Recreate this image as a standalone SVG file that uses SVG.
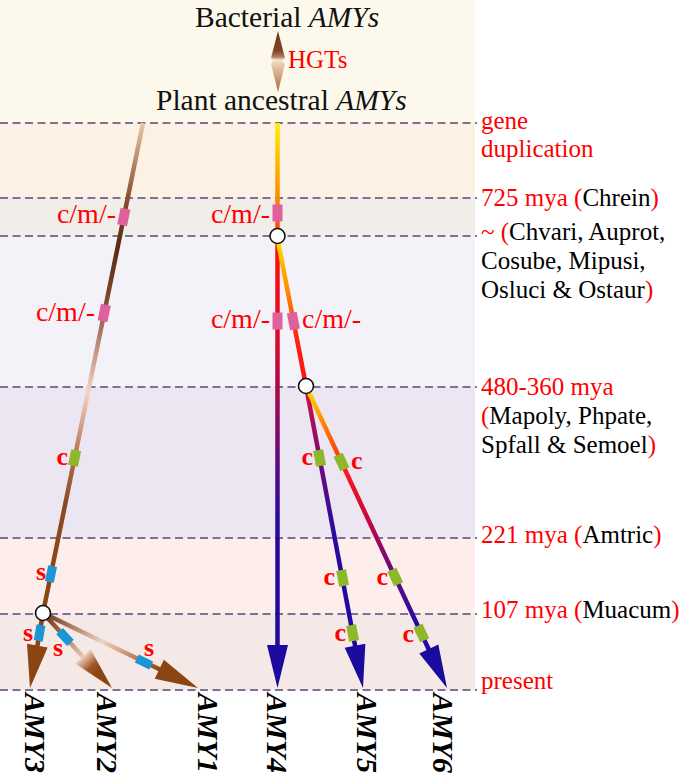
<svg xmlns="http://www.w3.org/2000/svg" width="685" height="782" viewBox="0 0 685 782">
<defs>
<style>
.dash{stroke:#7f7094;stroke-width:2;stroke-dasharray:8 4.5;fill:none}
.t{font-family:"Liberation Serif","Times New Roman",serif;font-size:25px;fill:#000}
.hd{font-family:"Liberation Serif","Times New Roman",serif;font-size:29.5px;fill:#111}
.r{fill:#f00}
.lab{font-family:"Liberation Serif","Times New Roman",serif;font-size:28px;fill:#f00}
.sm{font-family:"Liberation Serif","Times New Roman",serif;font-size:26px;font-weight:bold;fill:#f00}
.amy{font-family:"Liberation Serif","Times New Roman",serif;font-size:30px;font-style:italic;font-weight:bold;fill:#000}
.pk{fill:#e0609e}
.gr{fill:#8cb82a}
.bl{fill:#1a96d6}
.nd{fill:#fff;stroke:#111;stroke-width:1.6}
.br{stroke-width:4.5;fill:none}
.ah{fill:#8b4513}
.ahb{fill:#1a0a9e}
</style>
<linearGradient id="hgt" x1="0" y1="29" x2="0" y2="91" gradientUnits="userSpaceOnUse">
<stop offset="0" stop-color="#6e3418"/>
<stop offset="0.35" stop-color="#7e4424"/>
<stop offset="0.45" stop-color="#b08060"/>
<stop offset="0.5" stop-color="#f8e6d6"/>
<stop offset="0.55" stop-color="#f0d0b4"/>
<stop offset="1" stop-color="#a86e48"/>
</linearGradient>
<linearGradient id="gTrunk" x1="143" y1="123" x2="43" y2="613" gradientUnits="userSpaceOnUse">
<stop offset="0" stop-color="#e6c8aa"/>
<stop offset="0.15" stop-color="#8a5030"/>
<stop offset="0.25" stop-color="#5a2a10"/>
<stop offset="0.36" stop-color="#7a4a30"/>
<stop offset="0.47" stop-color="#c89888"/>
<stop offset="0.55" stop-color="#f2d4c4"/>
<stop offset="0.68" stop-color="#b07050"/>
<stop offset="0.78" stop-color="#8a4a20"/>
<stop offset="1" stop-color="#8b4513"/>
</linearGradient>
<linearGradient id="gA2" x1="43" y1="613" x2="86" y2="660" gradientUnits="userSpaceOnUse">
<stop offset="0" stop-color="#6a3010"/>
<stop offset="0.5" stop-color="#b07858"/>
<stop offset="1" stop-color="#f2d6c4"/>
</linearGradient>
<linearGradient id="gA2h" x1="0" y1="-43" x2="0" y2="0" gradientUnits="userSpaceOnUse">
<stop offset="0" stop-color="#f0d2bc"/>
<stop offset="0.3" stop-color="#a05a2a"/>
<stop offset="0.5" stop-color="#8b4513"/>
<stop offset="1" stop-color="#8b4513"/>
</linearGradient>
<linearGradient id="gA1" x1="43" y1="613" x2="162" y2="670" gradientUnits="userSpaceOnUse">
<stop offset="0" stop-color="#6a3010"/>
<stop offset="0.5" stop-color="#f0d2c0"/>
<stop offset="0.8" stop-color="#b87850"/>
<stop offset="1" stop-color="#8b4513"/>
</linearGradient>
<linearGradient id="gA4" x1="0" y1="123" x2="0" y2="690" gradientUnits="userSpaceOnUse">
<stop offset="0" stop-color="#ffee00"/>
<stop offset="0.1" stop-color="#ffa000"/>
<stop offset="0.16" stop-color="#ff7000"/>
<stop offset="0.22" stop-color="#ff1010"/>
<stop offset="0.37" stop-color="#e00a28"/>
<stop offset="0.49" stop-color="#a00a50"/>
<stop offset="0.6" stop-color="#5a0a80"/>
<stop offset="0.7" stop-color="#2a0a9a"/>
<stop offset="1" stop-color="#1a0aa0"/>
</linearGradient>
<linearGradient id="gB" x1="277" y1="236" x2="306" y2="386" gradientUnits="userSpaceOnUse">
<stop offset="0" stop-color="#ffe800"/>
<stop offset="0.35" stop-color="#ff8c00"/>
<stop offset="0.7" stop-color="#ff2010"/>
<stop offset="1" stop-color="#ff1010"/>
</linearGradient>
<linearGradient id="gA5" x1="306" y1="386" x2="363" y2="688" gradientUnits="userSpaceOnUse">
<stop offset="0" stop-color="#d8103a"/>
<stop offset="0.28" stop-color="#6a0a80"/>
<stop offset="0.5" stop-color="#2a0aa0"/>
<stop offset="1" stop-color="#1a0aa0"/>
</linearGradient>
<linearGradient id="gA6" x1="306" y1="386" x2="447" y2="688" gradientUnits="userSpaceOnUse">
<stop offset="0" stop-color="#ffe800"/>
<stop offset="0.13" stop-color="#ff8000"/>
<stop offset="0.28" stop-color="#ff1818"/>
<stop offset="0.45" stop-color="#c00a40"/>
<stop offset="0.6" stop-color="#6a0a80"/>
<stop offset="0.78" stop-color="#2a0aa0"/>
<stop offset="1" stop-color="#1a0aa0"/>
</linearGradient>
<path id="head" d="M0,0 L-10.5,-43 L10.5,-43 Z"/>
</defs>

<g id="bands">
<rect x="0" y="0" width="475" height="123" fill="#fcf8ec"/>
<rect x="0" y="123" width="475" height="75" fill="#fbf1e5"/>
<rect x="0" y="198" width="475" height="38" fill="#f1eee9"/>
<rect x="0" y="236" width="475" height="151" fill="#f4f2f9"/>
<rect x="0" y="387" width="475" height="151" fill="#ece6f2"/>
<rect x="0" y="538" width="475" height="76" fill="#fdeeec"/>
<rect x="0" y="614" width="475" height="76" fill="#f4e9e6"/>
</g>

<g id="timelines">
<line class="dash" x1="0" y1="123" x2="477" y2="123"/>
<line class="dash" x1="0" y1="198" x2="477" y2="198"/>
<line class="dash" x1="0" y1="236" x2="477" y2="236"/>
<line class="dash" x1="0" y1="387" x2="477" y2="387"/>
<line class="dash" x1="0" y1="538" x2="477" y2="538"/>
<line class="dash" x1="0" y1="614" x2="477" y2="614"/>
<line class="dash" x1="0" y1="690" x2="477" y2="690"/>
</g>

<g id="node-bacterial">
<text class="hd" x="195" y="27">Bacterial <tspan font-style="italic">AMYs</tspan></text>
</g>
<g id="node-plant">
<text class="hd" x="156" y="110">Plant ancestral <tspan font-style="italic">AMYs</tspan></text>
</g>

<g id="connectors">
<path d="M278,31 L285,58 L282.5,61 L285,64 L278,92 L271,64 L273.5,61 L271,58 Z" fill="url(#hgt)"/>
<text class="t r" x="288" y="68" font-size="24">HGTs</text>

<line class="br" x1="143" y1="123" x2="43" y2="613" stroke="url(#gTrunk)"/>
<line class="br" x1="43" y1="613" x2="37" y2="648" stroke="#8b4513"/>
<line class="br" x1="43" y1="613" x2="85" y2="659" stroke="url(#gA2)"/>
<line class="br" x1="43" y1="613" x2="161" y2="670" stroke="url(#gA1)"/>
<use href="#head" class="ah" transform="translate(30,688) rotate(9.83)"/>
<use href="#head" fill="url(#gA2h)" transform="translate(112,688) rotate(-42.6)"/>
<use href="#head" class="ah" transform="translate(198,688) rotate(-64.18)"/>

<line class="br" x1="277.5" y1="123" x2="277.5" y2="648" stroke="url(#gA4)"/>
<line class="br" x1="277" y1="236" x2="306" y2="386" stroke="url(#gB)"/>
<line class="br" x1="306" y1="386" x2="355.5" y2="648" stroke="url(#gA5)"/>
<line class="br" x1="306" y1="386" x2="429.5" y2="651" stroke="url(#gA6)"/>
<use href="#head" class="ahb" transform="translate(277.5,688)"/>
<use href="#head" class="ahb" transform="translate(363,688) rotate(-10.69)"/>
<use href="#head" class="ahb" transform="translate(447,688) rotate(-25.03)"/>
</g>

<g id="mutations">
<rect class="pk" x="-5" y="-8.5" width="10" height="17" transform="translate(123.8,217) rotate(11.5)"/>
<rect class="pk" x="-5" y="-8.5" width="10" height="17" transform="translate(104.2,313) rotate(11.5)"/>
<rect class="gr" x="-5" y="-8" width="10" height="16" transform="translate(74.6,458) rotate(11.5)"/>
<rect class="bl" x="-4.5" y="-8" width="9" height="16" transform="translate(51,574) rotate(11.5)"/>
<rect class="bl" x="-4.5" y="-8" width="9" height="16" transform="translate(39.6,633) rotate(9.83)"/>
<rect class="bl" x="-4.5" y="-8" width="9" height="16" transform="translate(65,637) rotate(-42.6)"/>
<rect class="bl" x="-4.5" y="-8" width="9" height="16" transform="translate(144,662) rotate(-64.18)"/>

<rect class="pk" x="-5" y="-8.5" width="10" height="17" transform="translate(277.5,213)"/>
<rect class="pk" x="-5" y="-8.5" width="10" height="17" transform="translate(277.5,321)"/>
<rect class="pk" x="-5" y="-8.5" width="10" height="17" transform="translate(293.4,321) rotate(-10.9)"/>
<rect class="gr" x="-5" y="-8" width="10" height="16" transform="translate(319.6,458) rotate(-10.69)"/>
<rect class="gr" x="-5" y="-8" width="10" height="16" transform="translate(342.6,578) rotate(-10.69)"/>
<rect class="gr" x="-5" y="-8" width="10" height="16" transform="translate(352.6,633) rotate(-10.69)"/>
<rect class="gr" x="-5" y="-8" width="10" height="16" transform="translate(341.5,462) rotate(-25.03)"/>
<rect class="gr" x="-5" y="-8" width="10" height="16" transform="translate(395.2,577) rotate(-25.03)"/>
<rect class="gr" x="-5" y="-8" width="10" height="16" transform="translate(421.3,633) rotate(-25.03)"/>
</g>

<g id="mutation-labels">
<text class="lab" x="116" y="223" text-anchor="end">c/m/-</text>
<text class="lab" x="95" y="321" text-anchor="end">c/m/-</text>
<text class="lab" x="270" y="223" text-anchor="end">c/m/-</text>
<text class="lab" x="270" y="328" text-anchor="end">c/m/-</text>
<text class="lab" x="302" y="328">c/m/-</text>
<text class="sm" x="68" y="465" text-anchor="end">c</text>
<text class="sm" x="313" y="465" text-anchor="end">c</text>
<text class="sm" x="351" y="469">c</text>
<text class="sm" x="335" y="585" text-anchor="end">c</text>
<text class="sm" x="388" y="585" text-anchor="end">c</text>
<text class="sm" x="346" y="641" text-anchor="end">c</text>
<text class="sm" x="414" y="642" text-anchor="end">c</text>
<text class="sm" x="46" y="580" text-anchor="end">s</text>
<text class="sm" x="33" y="641" text-anchor="end">s</text>
<text class="sm" x="63" y="656" text-anchor="end">s</text>
<text class="sm" x="154" y="656" text-anchor="end">s</text>
</g>

<g id="node-dup-left"><circle class="nd" cx="43" cy="613" r="7.5"/></g>
<g id="node-dup-mid"><circle class="nd" cx="277.5" cy="236" r="7.5"/></g>
<g id="node-dup-right"><circle class="nd" cx="306" cy="386" r="7.5"/></g>

<g id="time-labels">
<text class="t r" x="481" y="129">gene</text>
<text class="t r" x="481" y="157">duplication</text>
<text class="t" x="481" y="206"><tspan class="r">725 mya (</tspan>Chrein<tspan class="r">)</tspan></text>
<text class="t" x="481" y="240"><tspan class="r">~ (</tspan>Chvari, Auprot,</text>
<text class="t" x="481" y="269">Cosube, Mipusi,</text>
<text class="t" x="481" y="298">Osluci &amp; Ostaur<tspan class="r">)</tspan></text>
<text class="t r" x="481" y="395">480-360 mya</text>
<text class="t" x="481" y="424"><tspan class="r">(</tspan>Mapoly, Phpate,</text>
<text class="t" x="481" y="453">Spfall &amp; Semoel<tspan class="r">)</tspan></text>
<text class="t" x="481" y="543"><tspan class="r">221 mya (</tspan>Amtric<tspan class="r">)</tspan></text>
<text class="t" x="481" y="618"><tspan class="r">107 mya (</tspan>Muacum<tspan class="r">)</tspan></text>
<text class="t r" x="481" y="689">present</text>
</g>

<g id="node-AMY3"><text class="amy" transform="translate(25,693) rotate(90)">AMY3</text></g>
<g id="node-AMY2"><text class="amy" transform="translate(97,693) rotate(90)">AMY2</text></g>
<g id="node-AMY1"><text class="amy" transform="translate(198,693) rotate(90)">AMY1</text></g>
<g id="node-AMY4"><text class="amy" transform="translate(267,693) rotate(90)">AMY4</text></g>
<g id="node-AMY5"><text class="amy" transform="translate(357,693) rotate(90)">AMY5</text></g>
<g id="node-AMY6"><text class="amy" transform="translate(433,693) rotate(90)">AMY6</text></g>
</svg>
